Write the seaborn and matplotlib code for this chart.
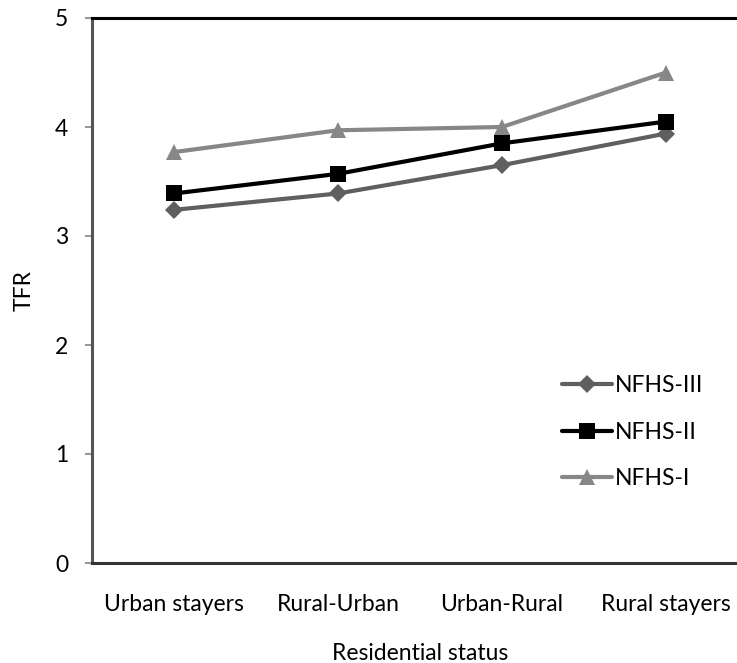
import matplotlib
matplotlib.use("Agg")
import matplotlib.pyplot as plt
import seaborn as sns
import pandas as pd

categories = ["Urban stayers", "Rural-Urban", "Urban-Rural", "Rural stayers"]
nfhs3 = [3.24, 3.39, 3.65, 3.94]
nfhs2 = [3.39, 3.57, 3.85, 4.05]
nfhs1 = [3.77, 3.97, 4.00, 4.50]
series_names = ["NFHS-III", "NFHS-II", "NFHS-I"]
yticks = [0, 1, 2, 3, 4, 5]

sns.set_style("white")
plt.rcParams['font.family'] = ['Lato', 'DejaVu Sans']
plt.rcParams['text.color'] = 'black'
plt.rcParams['axes.labelcolor'] = 'black'
plt.rcParams['xtick.color'] = 'black'
plt.rcParams['ytick.color'] = 'black'

df = pd.DataFrame({
    "status": categories * 3,
    "TFR": nfhs3 + nfhs2 + nfhs1,
    "series": [series_names[0]] * 4 + [series_names[1]] * 4 + [series_names[2]] * 4,
})

fig = plt.figure(figsize=(7.37, 6.63), dpi=100)
ax = fig.add_axes([92 / 737, 1 - 563 / 663, 656 / 737, 545 / 663])

styles = {
    "NFHS-III": dict(color="#5f5f5f", marker="D", ms=9),
    "NFHS-II": dict(color="#000000", marker="s", ms=11),
    "NFHS-I": dict(color="#878787", marker="^", ms=12),
}
for name in series_names:
    sub = df[df["series"] == name]
    st = styles[name]
    sns.lineplot(data=sub, x="status", y="TFR", ax=ax, color=st["color"],
                 marker=st["marker"], markersize=st["ms"], linewidth=3,
                 markeredgewidth=0, label=name, sort=False)

fs = 16.5
ax.set_xlim(-0.5, 3.5)
ax.set_ylim(0, 5)
ax.set_yticks(yticks)
ax.tick_params(axis="y", which="both", left=True, length=5, width=1.5,
               color="#999999", labelcolor="black", labelsize=fs, pad=12)
ax.tick_params(axis="x", bottom=False, labelcolor="black", labelsize=fs, pad=19)
ax.set_xlabel("Residential status", fontsize=fs, labelpad=20, color="black")
ax.set_ylabel("TFR", fontsize=fs, labelpad=15, color="black")

ax.spines["right"].set_visible(False)
ax.spines["top"].set_color("black")
ax.spines["top"].set_linewidth(2.2)
ax.spines["left"].set_color("#555555")
ax.spines["left"].set_linewidth(2.2)
ax.spines["bottom"].set_color("#333333")
ax.spines["bottom"].set_linewidth(2.2)

leg = ax.legend(loc="upper left", bbox_to_anchor=(0.685, 0.383), frameon=False,
                fontsize=fs, handlelength=2.2, handletextpad=0.1,
                labelspacing=1.12)

fig.savefig("out.png", dpi=100)
